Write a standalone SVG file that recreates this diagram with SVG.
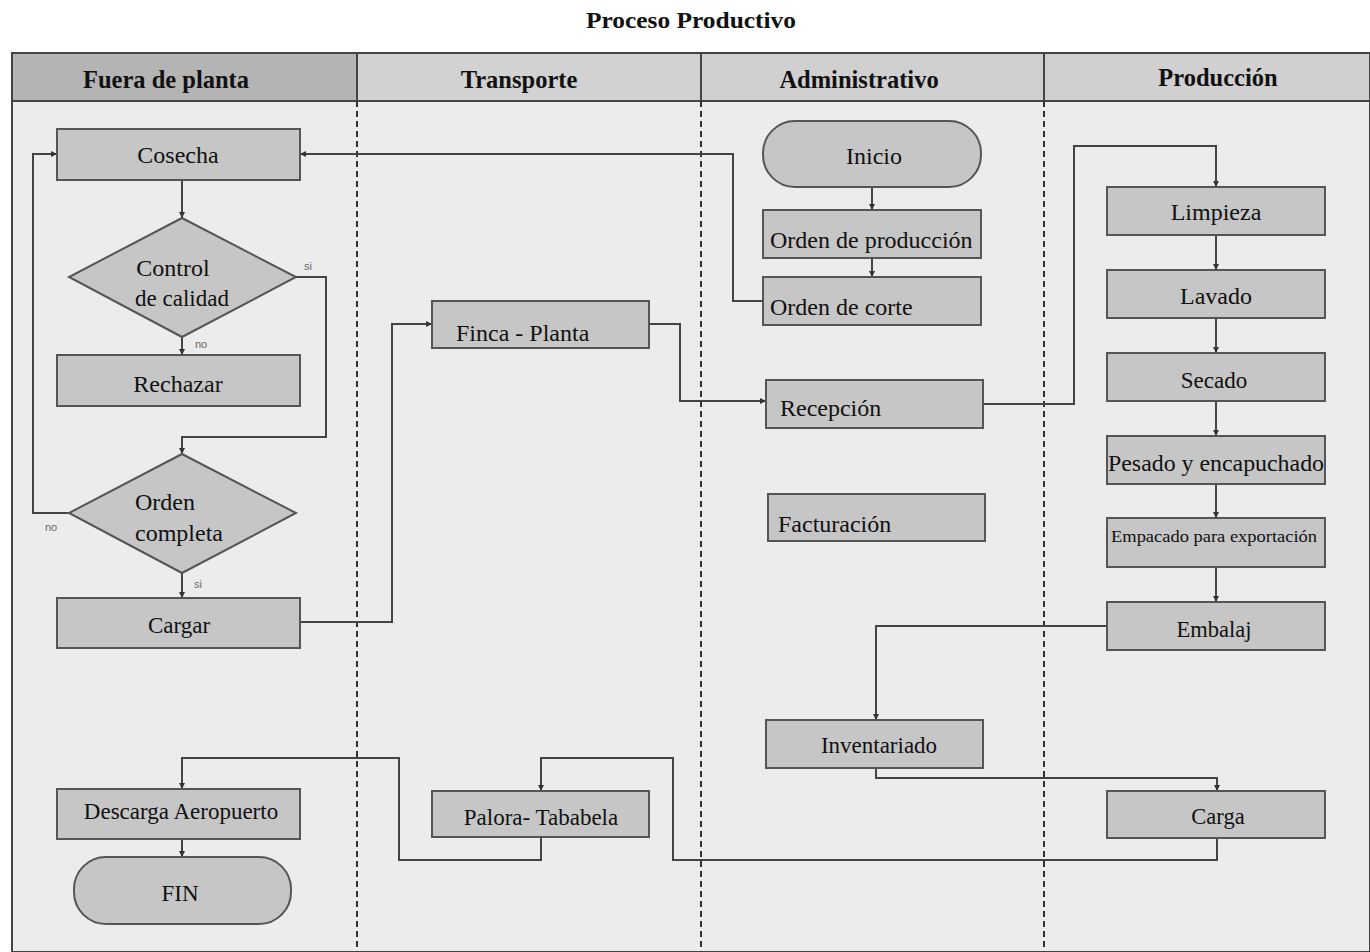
<svg xmlns="http://www.w3.org/2000/svg" width="1370" height="952" viewBox="0 0 1370 952">
<defs>
<marker id="arr" viewBox="0 0 10 10" refX="10" refY="5" markerWidth="6" markerHeight="6" markerUnits="userSpaceOnUse" orient="auto">
<path d="M0,0 L10,5 L0,10 z" fill="#333"/>
</marker>
<style>
.hd{font-family:"Liberation Serif",serif;font-weight:bold;font-size:24.5px;fill:#111;text-anchor:middle}
.box{fill:#c6c6c6;stroke:#555;stroke-width:2}
.t{font-family:"Liberation Serif",serif;font-size:24px;fill:#111}
.c{text-anchor:middle}
.lbl{font-family:"Liberation Sans",sans-serif;font-size:11px;fill:#666}
.sep{stroke:#333;stroke-width:2;stroke-dasharray:6,4}
.cn path{fill:none;stroke:#444;stroke-width:2;marker-end:url(#arr)}
</style>
</defs>
<rect width="1370" height="952" fill="#fff"/>
<text x="691" y="28" class="hd" style="font-size:23px" textLength="210" lengthAdjust="spacingAndGlyphs">Proceso Productivo</text>
<g id="lanes">
<rect x="12" y="53" width="1358" height="899" fill="#ececec" stroke="#444" stroke-width="2"/>
<rect x="12" y="53" width="345" height="48" fill="#b4b4b4" stroke="#444" stroke-width="2"/>
<rect x="357" y="53" width="344" height="48" fill="#d2d2d2" stroke="#444" stroke-width="2"/>
<rect x="701" y="53" width="343" height="48" fill="#d0d0d0" stroke="#444" stroke-width="2"/>
<rect x="1044" y="53" width="326" height="48" fill="#d0d0d0" stroke="#444" stroke-width="2"/>
<text x="166" y="88" class="hd">Fuera de planta</text>
<text x="519" y="88" class="hd">Transporte</text>
<text x="859" y="88" class="hd">Administrativo</text>
<text x="1218" y="86" class="hd">Producción</text>
<line x1="357" y1="101" x2="357" y2="952" class="sep"/>
<line x1="701" y1="101" x2="701" y2="952" class="sep"/>
<line x1="1044" y1="101" x2="1044" y2="952" class="sep"/>
</g>
<g class="cn" id="connectors">
<path d="M763,301 H733 V154 H300"/>
<path d="M182,180 V218"/>
<path d="M182,337 V355"/>
<path d="M296,277 H326 V437 H182 V454"/>
<path d="M69,513 H33 V154 H57"/>
<path d="M182,573 V598"/>
<path d="M300,622 H392 V324 H432"/>
<path d="M649,324 H680 V401 H766"/>
<path d="M983,404 H1074 V146 H1216 V187"/>
<path d="M872,187 V210"/>
<path d="M872,258 V277"/>
<path d="M1216,235 V270"/>
<path d="M1216,318 V353"/>
<path d="M1216,401 V436"/>
<path d="M1216,484 V518"/>
<path d="M1216,567 V602"/>
<path d="M1107,626 H876 V720"/>
<path d="M876,768 V778 H1217 V791"/>
<path d="M1217,838 V860 H673 V758 H541 V791"/>
<path d="M541,837 V860 H399 V758 H182 V789"/>
<path d="M182,839 V857"/>
</g>
<g id="cosecha"><rect x="57" y="129" width="243" height="51" class="box"/><text x="178" y="163" class="t c">Cosecha</text></g>
<g id="control"><polygon points="182,218 296,277 182,337 69,277" class="box"/><text x="173" y="276" class="t c">Control</text><text x="182" y="306" class="t c" style="font-size:23px">de calidad</text></g>
<g id="lbl-si1"><text x="304" y="270" class="lbl">si</text></g>
<g id="lbl-no1"><text x="195" y="348" class="lbl">no</text></g>
<g id="rechazar"><rect x="57" y="355" width="243" height="51" class="box"/><text x="178" y="392" class="t c">Rechazar</text></g>
<g id="orden-completa"><polygon points="182,454 296,513 182,573 69,513" class="box"/><text x="165" y="510" class="t c">Orden</text><text x="179" y="541" class="t c">completa</text></g>
<g id="lbl-no2"><text x="45" y="531" class="lbl">no</text></g>
<g id="lbl-si2"><text x="194" y="588" class="lbl">si</text></g>
<g id="cargar"><rect x="57" y="598" width="243" height="50" class="box"/><text x="179" y="633" class="t c" style="font-size:23px">Cargar</text></g>
<g id="descarga"><rect x="57" y="789" width="243" height="50" class="box"/><text x="181" y="819" class="t c" style="font-size:23px">Descarga Aeropuerto</text></g>
<g id="fin"><rect x="74" y="857" width="217" height="67" rx="32" class="box"/><text x="180" y="901" class="t c" style="font-size:23px">FIN</text></g>
<g id="finca"><rect x="432" y="301" width="217" height="47" class="box"/><text x="456" y="341" class="t">Finca - Planta</text></g>
<g id="palora"><rect x="432" y="791" width="217" height="46" class="box"/><text x="541" y="825" class="t c" style="font-size:23px">Palora- Tababela</text></g>
<g id="inicio"><rect x="763" y="121" width="218" height="66" rx="32" class="box"/><text x="874" y="164" class="t c">Inicio</text></g>
<g id="orden-produccion"><rect x="763" y="210" width="218" height="48" class="box"/><text x="770" y="248" class="t">Orden de producción</text></g>
<g id="orden-corte"><rect x="763" y="277" width="218" height="48" class="box"/><text x="770" y="315" class="t">Orden de corte</text></g>
<g id="recepcion"><rect x="766" y="380" width="217" height="48" class="box"/><text x="780" y="416" class="t">Recepción</text></g>
<g id="facturacion"><rect x="768" y="494" width="217" height="47" class="box"/><text x="778" y="532" class="t">Facturación</text></g>
<g id="inventariado"><rect x="766" y="720" width="217" height="48" class="box"/><text x="879" y="753" class="t c" style="font-size:23px">Inventariado</text></g>
<g id="limpieza"><rect x="1107" y="187" width="218" height="48" class="box"/><text x="1216" y="220" class="t c">Limpieza</text></g>
<g id="lavado"><rect x="1107" y="270" width="218" height="48" class="box"/><text x="1216" y="304" class="t c">Lavado</text></g>
<g id="secado"><rect x="1107" y="353" width="218" height="48" class="box"/><text x="1214" y="388" class="t c" style="font-size:23px">Secado</text></g>
<g id="pesado"><rect x="1107" y="436" width="218" height="48" class="box"/><text x="1216" y="471" class="t c" textLength="216" lengthAdjust="spacingAndGlyphs">Pesado y encapuchado</text></g>
<g id="empacado"><rect x="1107" y="518" width="218" height="49" class="box"/><text x="1214" y="542" class="t c" style="font-size:16px" textLength="206" lengthAdjust="spacingAndGlyphs">Empacado para exportación</text></g>
<g id="embalaj"><rect x="1107" y="602" width="218" height="48" class="box"/><text x="1214" y="637" class="t c" style="font-size:22.5px">Embalaj</text></g>
<g id="carga"><rect x="1107" y="791" width="218" height="47" class="box"/><text x="1218" y="824" class="t c" style="font-size:22.5px">Carga</text></g>
</svg>
